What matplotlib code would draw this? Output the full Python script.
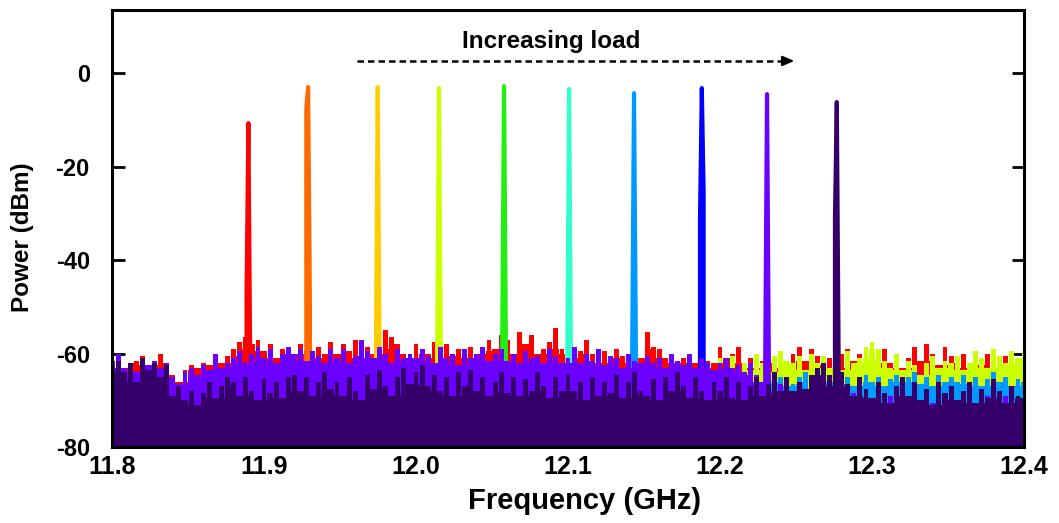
import numpy as np
import matplotlib
matplotlib.use("Agg")
import matplotlib.pyplot as plt

plt.rcParams['font.family'] = ['Liberation Sans', 'DejaVu Sans']
plt.rcParams['font.weight'] = 'bold'
plt.rcParams['axes.unicode_minus'] = False

# peak of each trace, ordered by increasing load
trace_colors = ['#ff0000', '#ff6a00', '#ffcc00', '#ccff00', '#22ee11', '#33ffcc',
                '#0099ff', '#0000ff', '#6a00ff', '#36006a']
peak_freqs = [11.8897, 11.9290, 11.9748, 12.0151, 12.0579, 12.1007, 12.1434, 12.1880, 12.2309, 12.2768]
peak_powers = [-10.7, -3.0, -3.0, -3.2, -2.8, -3.4, -4.3, -3.2, -4.5, -6.2]
shoulder_left = [-47, -7.5, -60, -60, -57, -60, -59, -31.5, -62, -31]
shoulder_right = [-62, -50, -60, -60, -58, -60, -57, -25.5, -62, -60]

# noise floor sampled every 4 MHz from 11.8 GHz (151 points)
noise_start = 11.8
noise_step = 0.004
noise_red = [-62.5, -61, -63, -62, -61.5, -60.5, -62.5, -61.5, -60, -62,
             -64.5, -66, -63.5, -62.5, -63, -62, -62.5, -61, -62, -60.5,
             -59, -57.5, -56.5, -58, -57, -59.5, -58, -61, -59, -60,
             -60, -58, -59.5, -61, -58.5, -60, -57.5,
             -60, -58, -59.5, -57, -61, -58.5, -60, -59, -55, -56.5, -58, -60, -61,
             -58, -59, -60, -57.5, -61, -58, -60.5, -59, -61, -58.5, -60, -59.5, -57,
             -59, -56, -57, -60, -55.5, -58, -56, -60, -59, -57.5, -54.5, -59,
             -60, -61, -59.5, -57, -60, -62, -59.5, -61, -59, -60.5, -62, -60, -61,
             -55.5, -58.5, -59, -61, -60, -62, -61, -60.5, -62, -63, -61.5, -62,
             -58.5, -61, -60, -58.5, -62, -61, -63, -61.5, -60.5, -62, -63, -64,
             -60, -58.5, -61.5, -59, -60.5, -62.5, -61, -63, -60, -59, -61.5, -60, -62,
             -60, -61.5, -59, -62, -60.5, -63, -61, -58.5, -61.5, -58, -60, -62.5, -58.5,
             -60.5, -62, -60, -63, -61, -62.5, -60, -63.5, -62, -60.5, -63, -61.5, -63]
noise_violet = [-61.5, -60, -63, -62, -64, -61, -62.5, -61.5, -63, -62,
                -65, -66.5, -64, -63, -64.5, -62.5, -63.5, -60, -63, -62,
                -61, -59.5, -62, -60, -58.5, -61, -59, -62, -60, -58.5,
                -60, -59, -61.5, -59.5, -60.5, -62, -59,
                -61, -59, -62, -60.5, -57, -59.5, -61, -58.5, -60, -62, -59, -61, -60,
                -61, -59, -60.5, -62, -58.5, -61, -60, -62.5, -59, -61, -60, -58.5, -61.5,
                -60, -59, -61.5, -60, -62, -59.5, -61, -60.5, -62, -59, -60.5, -62,
                -61, -58.5, -62, -60, -61.5, -59, -62.5, -60.5, -61, -63, -60, -61.5, -62,
                -60.5, -62, -61, -63, -60, -61.5, -62.5, -60, -63, -61, -62, -63.5,
                -62, -61, -63, -62.5, -64, -62, -64.5, -66, -67, -68, -66.5, -68,
                -69, -70, -68.5, -71, -69.5, -70, -68, -71, -69, -70.5, -68.5, -70, -71,
                -70, -68.5, -71, -69, -70.5, -72, -69.5, -70, -71.5, -69, -70.5, -68, -71,
                -69.5, -71, -70, -68.5, -71.5, -70, -69, -71, -70.5, -69, -72, -70, -71]
noise_dark = [-63, -61.5, -64, -62, -66, -61, -63.5, -62, -65, -62.5,
              -69, -67, -70, -68, -71, -68.5, -66, -69.5, -67, -65,
              -66, -69, -65, -68, -70, -65.5, -68.5, -66, -69.5, -65,
              -64.5, -68, -65, -69, -66, -64, -67.5,
              -66, -69, -65, -68, -70, -64.5, -67.5, -63.5, -67, -69, -65, -63, -66.5,
              -64, -62.5, -67, -64.5, -68, -65, -69, -64, -67, -63.5, -68, -65, -69,
              -66, -64, -68.5, -65, -69, -65.5, -68, -64, -67, -69.5, -65, -68,
              -64.5, -68, -66, -70, -65, -69, -66, -68.5, -64.5, -69.5, -66, -64, -68,
              -69, -65.5, -70, -65, -68, -64, -67, -69.5, -65, -68, -70, -66,
              -68, -65, -69.5, -66, -70, -67, -65, -69, -66.5, -64, -68, -65,
              -68, -66, -67.5, -64.5, -63, -62, -64.5, -67, -64, -66.5, -69, -65, -67.5,
              -69.5, -66, -68.5, -70.5, -67, -65, -69, -66, -70, -67.5, -71, -66, -68.5,
              -67, -70, -68, -66, -70.5, -67.5, -69.5, -65.5, -68, -70.5, -67, -69, -69.5]
# these two only rise above the others above 12.196 GHz (52 points)
noise_yellowgreen = [-64,
                     -61, -63, -60.5, -64, -62, -63.5, -60, -62, -64, -60.5, -59.5, -61.5,
                     -62, -60.5, -63.5, -60, -62, -60.5, -63, -61, -63.5, -59.5, -62, -61, -58.5,
                     -57.5, -59, -61.5, -63, -60, -63.5, -61.5, -62.5, -64.5, -62, -60.5, -63, -61.5,
                     -62, -60.5, -63.5, -62, -59.5, -61, -63, -59, -60.5, -62, -59.5, -61, -59.5]
noise_azure = [-67, -66, -65, -67, -64.5, -66, -65.5, -67, -66, -64.5, -66, -65, -67,
               -66.5, -65, -64, -66, -67.5, -65.5, -66, -64.5, -66.5, -65, -67, -66, -64.5,
               -66, -65, -67, -65.5, -64.5, -66, -65, -64, -66.5, -65, -67, -64.5, -66,
               -65, -66, -64.5, -66.5, -65, -67, -65.5, -64, -66, -65, -67, -65.5, -66]

noise = {0: (0, noise_red), 3: (99, noise_yellowgreen), 6: (99, noise_azure),
         8: (0, noise_violet), 9: (0, noise_dark)}

fig = plt.figure(figsize=(10.59, 5.23), dpi=100)
ax = fig.add_axes([0.1058, 0.1453, 0.8612, 0.8356])
floor = -80

for k, c in enumerate(trace_colors):
    z = 2 + 0.1 * k
    if k in noise:
        i0, vals = noise[k]
        v = np.array(vals, dtype=float)
        f = noise_start + noise_step * (i0 + np.arange(len(v)))
        # spikes standing on a floor at the lower neighbour level
        low = np.minimum(v, np.minimum(np.r_[v[0], v[:-1]], np.r_[v[1:], v[-1]]))
        ax.fill_between(f, floor, low, step='mid', color=c, lw=0, zorder=z)
        ax.bar(f, v - floor, bottom=floor, width=noise_step * 0.8, color=c, lw=0, zorder=z)
    f0 = peak_freqs[k]
    px = [f0 - 0.0012, f0 - 0.0012, f0, f0 + 0.0012, f0 + 0.0012]
    py = [floor, shoulder_left[k], peak_powers[k], shoulder_right[k], floor]
    ax.plot(px, py, color=c, lw=3, zorder=z)

# arrow
ax.plot([11.961, 12.243], [2.6, 2.6], color='k', lw=1.8, ls=(0, (2.6, 1.6)), zorder=5)
ax.annotate('', xy=(12.2507, 2.6), xytext=(12.240, 2.6),
            arrowprops=dict(arrowstyle='-|>,head_length=0.7,head_width=0.3', color='k', lw=1.5))
ax.text(12.089, 6.8, 'Increasing load', ha='center', va='center', fontsize=17.5, fontweight='bold')

ax.set_xlim(11.8, 12.4)
ax.set_ylim(-80, 13.5)
ax.set_xticks([11.8, 11.9, 12.0, 12.1, 12.2, 12.3, 12.4])
ax.set_xticklabels(['11.8', '11.9', '12.0', '12.1', '12.2', '12.3', '12.4'])
ax.set_yticks([-80, -60, -40, -20, 0])
ax.tick_params(axis='both', direction='in', length=9, width=2)
ax.tick_params(axis='y', right=True, pad=16, labelsize=17)
ax.tick_params(axis='x', pad=6, labelsize=18)
for s in ax.spines.values():
    s.set_linewidth(2.2)
    s.set_zorder(6)
ax.set_xlabel('Frequency (GHz)', fontsize=21, fontweight='bold')
ax.xaxis.set_label_coords(0.5186, -0.092)
ax.set_ylabel('Power (dBm)', fontsize=17.5, fontweight='bold')
ax.yaxis.set_label_coords(-0.086, 0.48)

fig.savefig('out.png', dpi=100)
